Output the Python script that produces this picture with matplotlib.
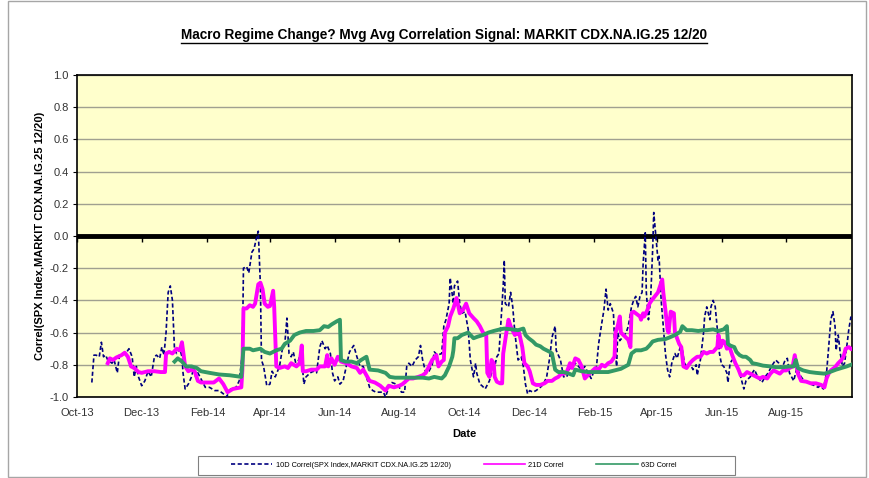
import matplotlib
matplotlib.use("Agg")
import matplotlib.pyplot as plt
import matplotlib.dates as mdates
from matplotlib.lines import Line2D
from matplotlib.patches import Rectangle
import pandas as pd

plt.rcParams['font.family'] = ['Liberation Sans', 'DejaVu Sans']

title = "Macro Regime Change? Mvg Avg Correlation Signal: MARKIT CDX.NA.IG.25 12/20"
ylabel = "Correl(SPX Index,MARKIT CDX.NA.IG.25 12/20)"
labels = ["10D Correl(SPX Index,MARKIT CDX.NA.IG.25 12/20)", "21D Correl", "63D Correl"]

# 10 day correlation
d10_dates = [
    "2013-10-15", "2013-10-17", "2013-10-19", "2013-10-22", "2013-10-24", "2013-10-26", "2013-10-28",
    "2013-10-30", "2013-11-03", "2013-11-05", "2013-11-08", "2013-11-10", "2013-11-13", "2013-11-16",
    "2013-11-19", "2013-11-22", "2013-11-24", "2013-11-26", "2013-11-28", "2013-12-01", "2013-12-04",
    "2013-12-07", "2013-12-10", "2013-12-13", "2013-12-15", "2013-12-18", "2013-12-20", "2013-12-22",
    "2013-12-24", "2013-12-26", "2013-12-28", "2013-12-30", "2014-01-01", "2014-01-03", "2014-01-06",
    "2014-01-08", "2014-01-09", "2014-01-11", "2014-01-14", "2014-01-17", "2014-01-19", "2014-01-21",
    "2014-01-23", "2014-01-25", "2014-01-30", "2014-02-03", "2014-02-08", "2014-02-12", "2014-02-16",
    "2014-02-19", "2014-02-23", "2014-02-28", "2014-03-03", "2014-03-06", "2014-03-07", "2014-03-10",
    "2014-03-12", "2014-03-15", "2014-03-17", "2014-03-19", "2014-03-21", "2014-03-23", "2014-03-24",
    "2014-03-26", "2014-03-29", "2014-04-01", "2014-04-03", "2014-04-06", "2014-04-10", "2014-04-13",
    "2014-04-15", "2014-04-17", "2014-04-19", "2014-04-21", "2014-04-23", "2014-04-26", "2014-04-29",
    "2014-05-01", "2014-05-03", "2014-05-05", "2014-05-09", "2014-05-12", "2014-05-15", "2014-05-18",
    "2014-05-20", "2014-05-23", "2014-05-25", "2014-05-28", "2014-05-30", "2014-06-01", "2014-06-04",
    "2014-06-06", "2014-06-09", "2014-06-12", "2014-06-15", "2014-06-17", "2014-06-19", "2014-06-22",
    "2014-06-25", "2014-06-28", "2014-07-01", "2014-07-04", "2014-07-07", "2014-07-10", "2014-07-14",
    "2014-07-17", "2014-07-19", "2014-07-22", "2014-07-25", "2014-07-29", "2014-08-01", "2014-08-03",
    "2014-08-06", "2014-08-08", "2014-08-10", "2014-08-13", "2014-08-16", "2014-08-19", "2014-08-21",
    "2014-08-23", "2014-08-26", "2014-08-29", "2014-09-01", "2014-09-03", "2014-09-06", "2014-09-10",
    "2014-09-12", "2014-09-14", "2014-09-17", "2014-09-18", "2014-09-21", "2014-09-22", "2014-09-25",
    "2014-09-27", "2014-09-29", "2014-10-02", "2014-10-05", "2014-10-07", "2014-10-10", "2014-10-12",
    "2014-10-13", "2014-10-16", "2014-10-18", "2014-10-21", "2014-10-25", "2014-10-27", "2014-10-30",
    "2014-11-01", "2014-11-03", "2014-11-05", "2014-11-07", "2014-11-08", "2014-11-09", "2014-11-12",
    "2014-11-14", "2014-11-16", "2014-11-18", "2014-11-21", "2014-11-24", "2014-11-26", "2014-11-28",
    "2014-11-30", "2014-12-02", "2014-12-05", "2014-12-08", "2014-12-12", "2014-12-15", "2014-12-18",
    "2014-12-21", "2014-12-23", "2014-12-26", "2014-12-27", "2014-12-31", "2015-01-03", "2015-01-06",
    "2015-01-08", "2015-01-11", "2015-01-14", "2015-01-17", "2015-01-20", "2015-01-23", "2015-01-26",
    "2015-01-29", "2015-01-31", "2015-02-03", "2015-02-05", "2015-02-08", "2015-02-10", "2015-02-12",
    "2015-02-14", "2015-02-16", "2015-02-19", "2015-02-20", "2015-02-22", "2015-02-23", "2015-02-25",
    "2015-02-28", "2015-03-03", "2015-03-05", "2015-03-08", "2015-03-10", "2015-03-12", "2015-03-14",
    "2015-03-16", "2015-03-18", "2015-03-19", "2015-03-21", "2015-03-22", "2015-03-24", "2015-03-26",
    "2015-03-28", "2015-03-29", "2015-03-31", "2015-04-02", "2015-04-03", "2015-04-05", "2015-04-07",
    "2015-04-09", "2015-04-11", "2015-04-13", "2015-04-15", "2015-04-18", "2015-04-20", "2015-04-23",
    "2015-04-25", "2015-04-27", "2015-04-29", "2015-05-02", "2015-05-05", "2015-05-08", "2015-05-09",
    "2015-05-12", "2015-05-15", "2015-05-16", "2015-05-18", "2015-05-21", "2015-05-22", "2015-05-24",
    "2015-05-26", "2015-05-28", "2015-05-30", "2015-06-01", "2015-06-03", "2015-06-06", "2015-06-07",
    "2015-06-09", "2015-06-11", "2015-06-13", "2015-06-15", "2015-06-18", "2015-06-20", "2015-06-22",
    "2015-06-24", "2015-06-28", "2015-06-30", "2015-07-02", "2015-07-05", "2015-07-09", "2015-07-12",
    "2015-07-15", "2015-07-18", "2015-07-22", "2015-07-25", "2015-07-28", "2015-07-31", "2015-08-02",
    "2015-08-04", "2015-08-08", "2015-08-11", "2015-08-15", "2015-08-18", "2015-08-21", "2015-08-24",
    "2015-08-28", "2015-08-31", "2015-09-02", "2015-09-05", "2015-09-08", "2015-09-10", "2015-09-12",
    "2015-09-14", "2015-09-16", "2015-09-17", "2015-09-19", "2015-09-21", "2015-09-23", "2015-09-25",
    "2015-09-27", "2015-09-29", "2015-10-01",
]
d10_vals = [
    -0.91, -0.74, -0.74, -0.75, -0.66, -0.75, -0.74,
    -0.77, -0.79, -0.77, -0.85, -0.74, -0.73, -0.73,
    -0.70, -0.75, -0.875, -0.81, -0.875, -0.93, -0.90,
    -0.84, -0.875, -0.75, -0.74, -0.76, -0.69, -0.74,
    -0.60, -0.35, -0.31, -0.40, -0.71, -0.73, -0.70,
    -0.75, -0.85, -0.95, -0.92, -0.875, -0.82, -0.875,
    -0.85, -0.875, -0.94, -0.94, -0.96, -0.96, -0.98,
    -1.0, -0.95, -0.94, -0.90, -0.73, -0.20, -0.19,
    -0.23, -0.10, -0.08, -0.02, 0.03, -0.31, -0.77,
    -0.81, -0.93, -0.92, -0.84, -0.875, -0.81, -0.69,
    -0.67, -0.51, -0.73, -0.75, -0.72, -0.81, -0.75,
    -0.76, -0.92, -0.875, -0.85, -0.84, -0.85, -0.69,
    -0.65, -0.70, -0.68, -0.73, -0.85, -0.90, -0.875,
    -0.92, -0.90, -0.81, -0.72, -0.70, -0.68, -0.75,
    -0.81, -0.81, -0.875, -0.94, -0.96, -0.97, -0.97,
    -0.97, -1.0, -0.94, -0.91, -0.92, -0.94, -0.97,
    -0.97, -0.81, -0.79, -0.81, -0.77, -0.75, -0.68,
    -0.77, -0.85, -0.84, -0.80, -0.72, -0.74, -0.73,
    -0.56, -0.52, -0.42, -0.26, -0.42, -0.31, -0.28,
    -0.42, -0.48, -0.47, -0.58, -0.77, -0.875, -0.79,
    -0.85, -0.92, -0.93, -0.95, -0.90, -0.85, -0.81,
    -0.75, -0.73, -0.52, -0.31, -0.15, -0.42, -0.44,
    -0.35, -0.44, -0.60, -0.77, -0.75, -0.81, -0.92,
    -0.98, -0.96, -0.97, -0.96, -0.94, -0.92, -0.875,
    -0.75, -0.63, -0.56, -0.71, -0.77, -0.875, -0.875,
    -0.83, -0.81, -0.79, -0.81, -0.83, -0.81, -0.85,
    -0.885, -0.85, -0.81, -0.67, -0.54, -0.46, -0.33,
    -0.46, -0.42, -0.48, -0.65, -0.81, -0.60, -0.65,
    -0.625, -0.60, -0.56, -0.44, -0.40, -0.375, -0.44,
    -0.375, -0.35, -0.17, 0.02, -0.35, -0.52, -0.40,
    -0.08, 0.146, 0.0, -0.15, -0.125, -0.40, -0.56,
    -0.73, -0.83, -0.875, -0.79, -0.73, -0.76, -0.69,
    -0.71, -0.79, -0.81, -0.79, -0.83, -0.80, -0.865,
    -0.77, -0.60, -0.50, -0.44, -0.52, -0.44, -0.40,
    -0.44, -0.58, -0.73, -0.80, -0.81, -0.85, -0.91,
    -0.79, -0.77, -0.77, -0.81, -0.85, -0.90, -0.95,
    -0.90, -0.875, -0.85, -0.83, -0.875, -0.91, -0.875,
    -0.85, -0.81, -0.77, -0.79, -0.82, -0.77, -0.76,
    -0.85, -0.90, -0.82, -0.875, -0.90, -0.91, -0.92,
    -0.93, -0.94, -0.93, -0.95, -0.85, -0.69, -0.52,
    -0.47, -0.56, -0.71, -0.615, -0.73, -0.81, -0.79,
    -0.69, -0.58, -0.50,
]

# 21 day correlation
d21_dates = [
    "2013-10-30", "2013-11-01", "2013-11-04", "2013-11-07", "2013-11-12", "2013-11-15", "2013-11-18",
    "2013-11-21", "2013-11-24", "2013-11-28", "2013-12-01", "2013-12-07", "2013-12-13", "2013-12-19",
    "2013-12-23", "2013-12-24", "2013-12-27", "2013-12-30", "2014-01-03", "2014-01-06", "2014-01-08",
    "2014-01-11", "2014-01-14", "2014-01-17", "2014-01-20", "2014-01-23", "2014-01-26", "2014-01-30",
    "2014-02-07", "2014-02-12", "2014-02-16", "2014-02-20", "2014-02-25", "2014-03-05", "2014-03-06",
    "2014-03-07", "2014-03-10", "2014-03-13", "2014-03-16", "2014-03-18", "2014-03-21", "2014-03-23",
    "2014-03-25", "2014-03-27", "2014-03-30", "2014-04-01", "2014-04-04", "2014-04-05", "2014-04-07",
    "2014-04-10", "2014-04-15", "2014-04-18", "2014-04-21", "2014-04-26", "2014-04-29", "2014-05-01",
    "2014-05-02", "2014-05-05", "2014-05-10", "2014-05-15", "2014-05-18", "2014-05-23", "2014-05-25",
    "2014-05-26", "2014-05-29", "2014-06-01", "2014-06-04", "2014-06-07", "2014-06-12", "2014-06-17",
    "2014-06-22", "2014-06-25", "2014-06-28", "2014-07-01", "2014-07-04", "2014-07-09", "2014-07-14",
    "2014-07-19", "2014-07-22", "2014-07-27", "2014-08-01", "2014-08-04", "2014-08-10", "2014-08-14",
    "2014-08-19", "2014-08-23", "2014-08-26", "2014-08-29", "2014-09-01", "2014-09-05", "2014-09-07",
    "2014-09-10", "2014-09-12", "2014-09-13", "2014-09-16", "2014-09-18", "2014-09-21", "2014-09-24",
    "2014-09-27", "2014-09-30", "2014-10-03", "2014-10-06", "2014-10-10", "2014-10-13", "2014-10-16",
    "2014-10-19", "2014-10-22", "2014-10-23", "2014-10-25", "2014-10-27", "2014-10-29", "2014-10-30",
    "2014-11-01", "2014-11-04", "2014-11-06", "2014-11-07", "2014-11-10", "2014-11-12", "2014-11-14",
    "2014-11-18", "2014-11-19", "2014-11-21", "2014-11-22", "2014-11-25", "2014-11-27", "2014-11-30",
    "2014-12-02", "2014-12-05", "2014-12-08", "2014-12-12", "2014-12-16", "2014-12-19", "2014-12-23",
    "2014-12-26", "2014-12-29", "2015-01-01", "2015-01-04", "2015-01-06", "2015-01-09", "2015-01-11",
    "2015-01-14", "2015-01-17", "2015-01-20", "2015-01-23", "2015-01-28", "2015-02-02", "2015-02-05",
    "2015-02-08", "2015-02-11", "2015-02-14", "2015-02-17", "2015-02-20", "2015-02-21", "2015-02-23",
    "2015-02-25", "2015-02-26", "2015-03-02", "2015-03-05", "2015-03-07", "2015-03-08", "2015-03-10",
    "2015-03-12", "2015-03-16", "2015-03-17", "2015-03-19", "2015-03-20", "2015-03-23", "2015-03-25",
    "2015-03-27", "2015-03-30", "2015-04-02", "2015-04-04", "2015-04-06", "2015-04-07", "2015-04-09",
    "2015-04-11", "2015-04-12", "2015-04-14", "2015-04-17", "2015-04-18", "2015-04-22", "2015-04-24",
    "2015-04-25", "2015-04-26", "2015-04-29", "2015-05-02", "2015-05-05", "2015-05-09", "2015-05-12",
    "2015-05-15", "2015-05-18", "2015-05-21", "2015-05-24", "2015-05-28", "2015-05-29", "2015-05-31",
    "2015-06-02", "2015-06-04", "2015-06-06", "2015-06-08", "2015-06-11", "2015-06-14", "2015-06-17",
    "2015-06-19", "2015-06-22", "2015-06-25", "2015-06-28", "2015-07-01", "2015-07-04", "2015-07-07",
    "2015-07-10", "2015-07-14", "2015-07-17", "2015-07-20", "2015-07-23", "2015-07-26", "2015-07-29",
    "2015-08-01", "2015-08-04", "2015-08-07", "2015-08-09", "2015-08-12", "2015-08-15", "2015-08-20",
    "2015-08-24", "2015-08-29", "2015-09-03", "2015-09-06", "2015-09-08", "2015-09-10", "2015-09-12",
    "2015-09-16", "2015-09-19", "2015-09-22", "2015-09-24", "2015-09-26", "2015-09-29", "2015-10-01",
]
d21_vals = [
    -0.79, -0.76, -0.77, -0.755, -0.74, -0.725, -0.75,
    -0.81, -0.82, -0.845, -0.85, -0.84, -0.84, -0.845,
    -0.845, -0.73, -0.72, -0.73, -0.70, -0.71, -0.66,
    -0.81, -0.84, -0.83, -0.84, -0.90, -0.91, -0.91,
    -0.91, -0.885, -0.92, -0.97, -0.95, -0.94, -0.83,
    -0.45, -0.45, -0.43, -0.44, -0.42, -0.30, -0.29,
    -0.33, -0.42, -0.44, -0.435, -0.34, -0.44, -0.81,
    -0.82, -0.81, -0.82, -0.79, -0.81, -0.79, -0.68,
    -0.84, -0.84, -0.83, -0.83, -0.81, -0.81, -0.74,
    -0.81, -0.76, -0.80, -0.75, -0.78, -0.79, -0.81,
    -0.82, -0.85, -0.83, -0.865, -0.90, -0.91, -0.93,
    -0.96, -0.93, -0.94, -0.93, -0.92, -0.885, -0.885,
    -0.875, -0.865, -0.85, -0.81, -0.77, -0.74, -0.81,
    -0.78, -0.77, -0.60, -0.56, -0.50, -0.45, -0.385,
    -0.48, -0.46, -0.42, -0.48, -0.51, -0.53, -0.56,
    -0.60, -0.615, -0.85, -0.875, -0.77, -0.79, -0.875,
    -0.905, -0.915, -0.915, -0.73, -0.60, -0.52, -0.56,
    -0.615, -0.59, -0.61, -0.60, -0.69, -0.79, -0.81,
    -0.84, -0.915, -0.925, -0.925, -0.915, -0.90, -0.90,
    -0.885, -0.875, -0.855, -0.855, -0.845, -0.79, -0.82,
    -0.76, -0.77, -0.81, -0.885, -0.85, -0.82, -0.83,
    -0.80, -0.81, -0.79, -0.78, -0.75, -0.60, -0.56,
    -0.50, -0.60, -0.625, -0.645, -0.69, -0.48, -0.47,
    -0.48, -0.50, -0.52, -0.48, -0.50, -0.46, -0.42,
    -0.40, -0.375, -0.35, -0.31, -0.27, -0.35, -0.46,
    -0.58, -0.60, -0.47, -0.48, -0.60, -0.67, -0.69,
    -0.75, -0.81, -0.82, -0.79, -0.77, -0.75, -0.75,
    -0.72, -0.73, -0.72, -0.72, -0.69, -0.615, -0.69,
    -0.65, -0.66, -0.70, -0.68, -0.74, -0.79, -0.83,
    -0.865, -0.865, -0.845, -0.855, -0.865, -0.875, -0.885,
    -0.875, -0.885, -0.855, -0.835, -0.845, -0.855, -0.835,
    -0.835, -0.82, -0.81, -0.74, -0.855, -0.90, -0.905,
    -0.915, -0.915, -0.925, -0.94, -0.885, -0.855, -0.835,
    -0.815, -0.79, -0.77, -0.75, -0.70, -0.69, -0.70,
]

# 63 day correlation
d63_dates = [
    "2014-01-01", "2014-01-04", "2014-01-08", "2014-01-12", "2014-01-17", "2014-01-22", "2014-01-26",
    "2014-02-03", "2014-02-12", "2014-02-22", "2014-03-05", "2014-03-07", "2014-03-13", "2014-03-16",
    "2014-03-23", "2014-03-27", "2014-04-01", "2014-04-07", "2014-04-12", "2014-04-15", "2014-04-20",
    "2014-04-24", "2014-04-29", "2014-05-05", "2014-05-12", "2014-05-18", "2014-05-22", "2014-05-26",
    "2014-05-29", "2014-06-03", "2014-06-06", "2014-06-07", "2014-06-11", "2014-06-17", "2014-06-22",
    "2014-06-26", "2014-07-01", "2014-07-04", "2014-07-12", "2014-07-19", "2014-07-23", "2014-07-28",
    "2014-08-03", "2014-08-10", "2014-08-16", "2014-08-23", "2014-08-29", "2014-09-03", "2014-09-10",
    "2014-09-13", "2014-09-17", "2014-09-20", "2014-09-21", "2014-09-22", "2014-09-25", "2014-09-29",
    "2014-10-05", "2014-10-10", "2014-10-14", "2014-10-19", "2014-10-24", "2014-10-29", "2014-11-04",
    "2014-11-08", "2014-11-15", "2014-11-21", "2014-11-26", "2014-11-28", "2014-12-01", "2014-12-05",
    "2014-12-08", "2014-12-12", "2014-12-15", "2014-12-18", "2014-12-21", "2014-12-23", "2014-12-26",
    "2014-12-29", "2015-01-03", "2015-01-08", "2015-01-12", "2015-01-14", "2015-01-20", "2015-01-26",
    "2015-02-02", "2015-02-08", "2015-02-14", "2015-02-20", "2015-02-26", "2015-03-05", "2015-03-08",
    "2015-03-12", "2015-03-17", "2015-03-22", "2015-03-25", "2015-03-28", "2015-04-02", "2015-04-09",
    "2015-04-13", "2015-04-18", "2015-04-23", "2015-04-25", "2015-04-29", "2015-05-04", "2015-05-10",
    "2015-05-15", "2015-05-18", "2015-05-24", "2015-05-29", "2015-06-03", "2015-06-06", "2015-06-07",
    "2015-06-09", "2015-06-13", "2015-06-15", "2015-06-18", "2015-06-21", "2015-06-24", "2015-06-28",
    "2015-06-30", "2015-07-04", "2015-07-10", "2015-07-17", "2015-07-23", "2015-07-29", "2015-08-04",
    "2015-08-08", "2015-08-10", "2015-08-12", "2015-08-17", "2015-08-23", "2015-08-29", "2015-09-06",
    "2015-09-11", "2015-09-17", "2015-09-22", "2015-09-27", "2015-10-01",
]
d63_vals = [
    -0.78, -0.76, -0.78, -0.81, -0.81, -0.82, -0.84,
    -0.85, -0.86, -0.865, -0.875, -0.70, -0.70, -0.71,
    -0.70, -0.72, -0.73, -0.71, -0.70, -0.67, -0.65,
    -0.615, -0.60, -0.59, -0.59, -0.585, -0.56, -0.565,
    -0.55, -0.53, -0.52, -0.77, -0.78, -0.78, -0.79,
    -0.77, -0.75, -0.83, -0.835, -0.85, -0.875, -0.88,
    -0.88, -0.88, -0.88, -0.88, -0.885, -0.875, -0.885,
    -0.865, -0.81, -0.75, -0.71, -0.635, -0.635, -0.615,
    -0.60, -0.635, -0.625, -0.615, -0.60, -0.59, -0.58,
    -0.575, -0.58, -0.585, -0.575, -0.615, -0.635, -0.655,
    -0.675, -0.685, -0.70, -0.71, -0.72, -0.73, -0.83,
    -0.845, -0.845, -0.855, -0.865, -0.83, -0.84, -0.845,
    -0.845, -0.845, -0.845, -0.835, -0.825, -0.80, -0.73,
    -0.71, -0.71, -0.70, -0.68, -0.655, -0.645, -0.64,
    -0.63, -0.615, -0.595, -0.56, -0.585, -0.585, -0.59,
    -0.585, -0.585, -0.58, -0.59, -0.58, -0.56, -0.67,
    -0.68, -0.69, -0.72, -0.74, -0.75, -0.75, -0.77,
    -0.79, -0.795, -0.805, -0.81, -0.815, -0.815, -0.81,
    -0.81, -0.77, -0.82, -0.835, -0.845, -0.85, -0.855,
    -0.845, -0.83, -0.82, -0.81, -0.80,
]

tick_dates = pd.date_range("2013-10-01", "2015-08-01", freq="2MS")

fig = plt.figure(figsize=(8.7, 4.78), dpi=100)
W, H = 870, 478
# outer chart border
fig.patches.append(Rectangle((8 / W, 1 / H), 858 / W, 476 / H, transform=fig.transFigure,
                             fill=False, edgecolor="#a6a6a6", linewidth=1))

ax = fig.add_axes([77 / W, 1 - 397 / H, 775 / W, 322 / H])
ax.set_facecolor("#ffffcc")

x10 = pd.to_datetime(d10_dates)
x21 = pd.to_datetime(d21_dates)
x63 = pd.to_datetime(d63_dates)

ax.plot(x10, d10_vals, color="#000080", linewidth=1.2, linestyle=(0, (2.5, 1.5)), label=labels[0], zorder=3)
ax.plot(x21, d21_vals, color="#ff00ff", linewidth=2.8, label=labels[1], zorder=4, solid_joinstyle="round")
ax.plot(x63, d63_vals, color="#339966", linewidth=2.8, label=labels[2], zorder=5, solid_joinstyle="round")

ax.set_ylim(-1.0, 1.0)
ax.set_yticks([i / 10 for i in range(-10, 11, 2)])
ax.yaxis.set_major_formatter(plt.FuncFormatter(lambda v, p: f"{v:.1f}"))
ax.set_xlim(pd.Timestamp("2013-10-01"), pd.Timestamp("2015-10-02"))
ax.set_xticks(tick_dates)
ax.xaxis.set_major_formatter(mdates.DateFormatter("%b-%y"))
ax.tick_params(axis="x", length=0, labelsize=8, colors="#333333", pad=8)
ax.tick_params(axis="y", length=3, labelsize=8, colors="#000000", labelcolor="#333333",
               direction="out", pad=3)

ax.grid(axis="y", color="#a0a090", linewidth=1)
ax.set_axisbelow(True)
for s in ax.spines.values():
    s.set_color("#000000")
    s.set_linewidth(1.2)

# thick zero axis line with small tick marks
ax.axhline(0, color="black", linewidth=3.5, zorder=2)
ax.plot(tick_dates, [0] * len(tick_dates), linestyle="none", marker=3, markersize=4,
        color="black", zorder=2, clip_on=False)

ax.set_ylabel(ylabel, fontsize=8, fontweight="bold", labelpad=3)
ax.set_xlabel("Date", fontsize=8, fontweight="bold", labelpad=8)

t = fig.text(444 / W, 1 - 35 / H, title, ha="center", va="center", fontsize=9.8,
             fontweight="bold")
fig.canvas.draw()
bb = t.get_window_extent()
fig.add_artist(Line2D([bb.x0 / W, bb.x1 / W], [(bb.y0 - 1) / H, (bb.y0 - 1) / H],
                      transform=fig.transFigure, color="black", linewidth=1))

# legend box drawn separately, entries centred inside it
fig.patches.append(Rectangle((198 / W, 1 - 475 / H), 537 / W, 19 / H, transform=fig.transFigure,
                             fill=False, edgecolor="#808080", linewidth=0.8))
leg = fig.legend(loc="center", bbox_to_anchor=(454 / W, 1 - 465.5 / H), ncol=3, fontsize=5.3,
                 frameon=False, handlelength=5.6, handletextpad=0.5, columnspacing=4.4)
for line in leg.get_lines():
    line.set_linewidth(1.2)

fig.savefig("out.png", dpi=100, facecolor="white")
